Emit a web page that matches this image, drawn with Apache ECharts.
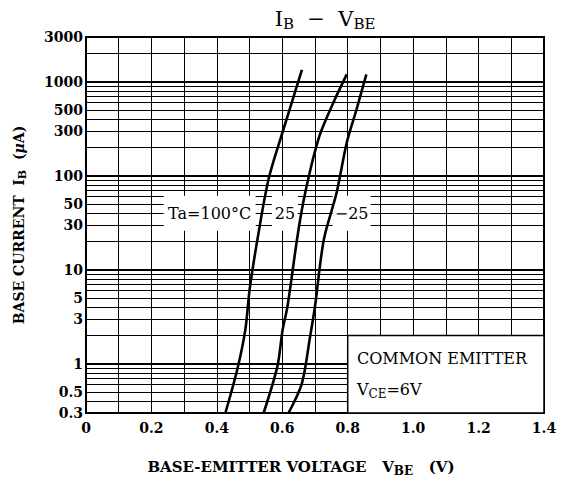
<!DOCTYPE html>
<html><head><meta charset="utf-8">
<script src="https://cdn.jsdelivr.net/npm/echarts@6/dist/echarts.min.js"></script>
<style>html,body{margin:0;padding:0;background:#fff}#c{width:561px;height:482px}</style>
</head><body><div id="c"></div>
<script>
// ---- data ----
const xTickLabels = ['0', '0.2', '0.4', '0.6', '0.8', '1.0', '1.2', '1.4'];
const yTickLabels = [0.3, 0.5, 1, 3, 5, 10, 30, 50, 100, 300, 500, 1000, 3000];
const yGridValues = [0.3, 0.4, 0.5, 0.6, 0.7, 0.8, 0.9,
  1, 2, 3, 4, 5, 6, 7, 8, 9,
  10, 20, 30, 40, 50, 60, 70, 80, 90,
  100, 200, 300, 400, 500, 600, 700, 800, 900,
  1000, 2000, 3000];
const yDecades = [1, 10, 100, 1000];

const vbeTa100 = [0.426, 0.462, 0.487, 0.500, 0.524, 0.558, 0.602, 0.660];
const ibTa100  = [0.3, 0.86, 2.3, 6.1, 21, 92, 300, 1340];
const vbeTa25  = [0.543, 0.585, 0.601, 0.616, 0.645, 0.664, 0.686, 0.703, 0.719, 0.756, 0.797];
const ibTa25   = [0.3, 0.94, 2.3, 4.1, 21, 52, 117, 200, 300, 600, 1200];
const vbeTaM25 = [0.619, 0.660, 0.685, 0.700, 0.727, 0.766, 0.797, 0.827, 0.857];
const ibTaM25  = [0.3, 0.62, 1.95, 4.1, 21, 66, 225, 510, 1200];

const curveLabels = ['Ta=100°C', '25', '−25'];

// ---- chart ----
const FONT = 'DejaVu Serif';
const pairs = (xs, ys) => xs.map((x, i) => [x, ys[i]]);

function curve(name, xs, ys) {
  return {
    name, type: 'line', z: 10, data: pairs(xs, ys),
    smooth: 0.3, showSymbol: false, silent: true,
    lineStyle: { color: '#000', width: 2.6 }
  };
}

const gridLines = yGridValues.map(v => {
  const labeled = yTickLabels.indexOf(v) >= 0;
  const isDec = yDecades.indexOf(v) >= 0;
  return {
    yAxis: v,
    lineStyle: { color: '#000', width: isDec ? 2 : 1, type: 'solid' },
    label: {
      show: labeled, position: 'start', distance: 3,
      formatter: String(v), color: '#000',
      fontFamily: FONT, fontWeight: 'bold', fontSize: 14
    }
  };
});

const chart = echarts.init(document.getElementById('c'), null, { renderer: 'svg' });
chart.setOption({
  animation: false,
  backgroundColor: '#fff',
  title: [{
    text: '{m|I}{s|B}{m|  −  V}{s|BE}',
    left: 320, top: 1, textAlign: 'center',
    textStyle: {
      fontWeight: 'normal',
      rich: {
        m: { fontFamily: FONT, fontWeight: 'normal', fontSize: 21, color: '#000' },
        s: { fontFamily: FONT, fontWeight: 'normal', fontSize: 15, color: '#000', padding: [10, 0, 0, 0] }
      }
    }
  }],
  grid: { left: 86, top: 37, right: 17, bottom: 69, show: true, borderColor: '#000', borderWidth: 2, backgroundColor: 'transparent' },
  xAxis: {
    type: 'value', min: 0, max: 1.4, interval: 0.1,
    axisLine: { show: false }, axisTick: { show: false },
    splitLine: { show: true, lineStyle: { color: '#000', width: 1 } },
    axisLabel: {
      margin: 8, color: '#000', fontFamily: FONT, fontWeight: 'bold', fontSize: 14,
      formatter: v => { const t = Math.round(v * 10); return t % 2 ? '' : xTickLabels[t / 2]; }
    },
    name: '{b|BASE-EMITTER VOLTAGE   V}{s|BE}{b|   (V)}',
    nameLocation: 'middle', nameGap: 44,
    nameTextStyle: {
      padding: [0, 28, 0, 0],
      rich: {
        b: { fontFamily: FONT, fontWeight: 'bold', fontSize: 15, color: '#000' },
        s: { fontFamily: FONT, fontWeight: 'bold', fontSize: 12, color: '#000', padding: [8, 0, 0, 0] }
      }
    }
  },
  yAxis: {
    type: 'log', logBase: 10, min: 0.3, max: 3000,
    axisLine: { show: false }, axisTick: { show: false },
    axisLabel: { show: false }, splitLine: { show: false },
    name: '{b|BASE CURRENT  I}{s|B}{b|  (}{i|μ}{b|A)}',
    nameLocation: 'middle', nameRotate: 90, nameGap: 58,
    nameTextStyle: {
      rich: {
        b: { fontFamily: FONT, fontWeight: 'bold', fontSize: 14, color: '#000' },
        i: { fontFamily: FONT, fontStyle: 'italic', fontWeight: 'bold', fontSize: 14, color: '#000' },
        s: { fontFamily: FONT, fontWeight: 'bold', fontSize: 11, color: '#000', padding: [8, 0, 0, 0] }
      }
    }
  },
  series: [
    {
      name: 'grid', type: 'line', z: 1, data: [], silent: true,
      markLine: { silent: true, z: 1, symbol: 'none', animation: false, data: gridLines }
    },
    {
      name: 'boxes', type: 'line', z: 3, data: [], silent: true,
      markArea: {
        silent: true, z: 3,
        itemStyle: { color: '#fff', opacity: 1, borderColor: '#000', borderWidth: 1.5 },
        label: {
          show: true, position: 'insideLeft', distance: 10,
          formatter: '{a|COMMON EMITTER}\n{v|V}{s|CE}{a|=6V}',
          rich: {
            a: { fontFamily: FONT, fontSize: 16, color: '#000', lineHeight: 31 },
            v: { fontFamily: FONT, fontSize: 16, color: '#000', lineHeight: 31 },
            s: { fontFamily: FONT, fontSize: 12, color: '#000', padding: [8, 0, 0, 0] }
          }
        },
        data: [[{ coord: [0.8, 2] }, { coord: [1.4, 0.3] }]]
      },
      markPoint: {
        silent: true, z: 3,
        itemStyle: { color: '#fff' },
        label: { show: true, position: 'inside', color: '#000', fontFamily: FONT, fontSize: 16 },
        data: [
          { coord: [0.378, 40], symbol: 'rect', symbolSize: [92, 35], value: curveLabels[0], label: { formatter: curveLabels[0] } },
          { coord: [0.608, 40], symbol: 'rect', symbolSize: [26, 35], value: curveLabels[1], label: { formatter: curveLabels[1] } },
          { coord: [0.812, 40], symbol: 'rect', symbolSize: [38, 35], value: curveLabels[2], label: { formatter: curveLabels[2] } }
        ]
      }
    },
    curve('Ta=100°C', vbeTa100, ibTa100),
    curve('Ta=25°C', vbeTa25, ibTa25),
    curve('Ta=-25°C', vbeTaM25, ibTaM25)
  ]
});
</script>
</body></html>
